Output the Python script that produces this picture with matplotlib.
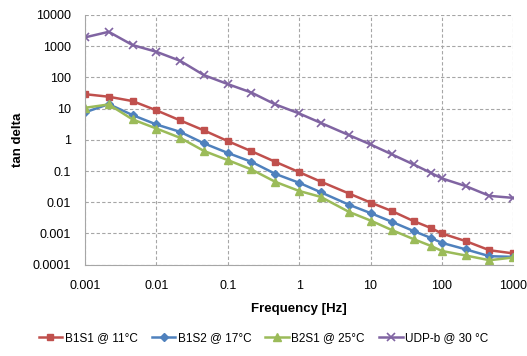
import matplotlib
matplotlib.use("Agg")
import matplotlib.pyplot as plt
from matplotlib.ticker import FuncFormatter, FixedLocator

plt.rcParams['font.family'] = ['Liberation Sans', 'DejaVu Sans']

# frequency sweep [Hz]
freq = [0.001, 0.00215, 0.00464, 0.01, 0.0215, 0.0464, 0.1, 0.215, 0.464,
        1, 2, 5, 10, 20, 40, 70, 100, 215, 464, 1000]

b1s1 = [29, 24, 17.4, 8.8, 4.2, 2.0, 0.91, 0.43, 0.197, 0.092, 0.046, 0.019,
        0.0098, 0.0052, 0.0025, 0.0015, 0.001, 0.00057, 0.00029, 0.00023]
b1s2 = [7.6, 13.9, 6.2, 3.1, 1.8, 0.77, 0.38, 0.197, 0.081, 0.042, 0.021, 0.0083,
        0.0045, 0.00235, 0.0012, 0.00072, 0.0005, 0.00031, 0.000187, 0.000178]
b2s1 = [10.6, 13.6, 4.5, 2.3, 1.16, 0.44, 0.224, 0.112, 0.045, 0.023, 0.0149, 0.0049,
        0.0026, 0.00128, 0.00066, 0.0004, 0.000275, 0.000197, 0.000139, 0.00017]
udpb = [1914, 2885, 1084, 661, 340, 118, 61, 32.6, 13.6, 7.0, 3.5, 1.41,
        0.71, 0.34, 0.163, 0.0875, 0.058, 0.033, 0.016, 0.0138]

labels = ['B1S1 @ 11°C', 'B1S2 @ 17°C', 'B2S1 @ 25°C', 'UDP-b @ 30 °C']

fig = plt.figure(figsize=(5.27, 3.56), dpi=100)
ax = fig.add_axes([0.1613, 0.2565, 0.8127, 0.7015])

ax.plot(freq, b1s1, color='#C0504D', marker='s', ms=5, lw=1.8, label=labels[0])
ax.plot(freq, b1s2, color='#4F81BD', marker='D', ms=4.5, lw=1.8, label=labels[1])
ax.plot(freq, b2s1, color='#9BBB59', marker='^', ms=6, lw=1.8, label=labels[2])
ax.plot(freq, udpb, color='#8064A2', marker='x', ms=6, mew=1.2, lw=1.8, label=labels[3])

ax.set_xscale('log')
ax.set_yscale('log')
ax.set_xlim(0.001, 1000)
ax.set_ylim(0.0001, 10000)
ax.xaxis.set_major_locator(FixedLocator([10.0**k for k in range(-3, 4)]))
ax.yaxis.set_major_locator(FixedLocator([10.0**k for k in range(-4, 5)]))
ax.xaxis.set_minor_locator(FixedLocator([]))
ax.yaxis.set_minor_locator(FixedLocator([]))
fmt = FuncFormatter(lambda v, p: '%g' % v)
ax.xaxis.set_major_formatter(fmt)
ax.yaxis.set_major_formatter(fmt)
ax.tick_params(length=0, labelsize=9)
ax.tick_params(axis='x', pad=11)
ax.tick_params(axis='y', pad=10)

ax.grid(True, color='#A6A6A6', linestyle=(0, (3, 2)), linewidth=0.8)
for s in ['top', 'right']:
    ax.spines[s].set_visible(False)
for s in ['left', 'bottom']:
    ax.spines[s].set_color('#A6A6A6')

ax.set_xlabel('Frequency [Hz]', fontsize=9.5, fontweight='bold', labelpad=8)
ax.set_ylabel('tan delta', fontsize=9.5, fontweight='bold', labelpad=6)

fig.legend(loc='center', bbox_to_anchor=(0.5, 0.05), ncol=4, frameon=False,
           fontsize=8.5, handlelength=2.0, handletextpad=0.2, columnspacing=1.2)

fig.savefig('out.png', dpi=100)
